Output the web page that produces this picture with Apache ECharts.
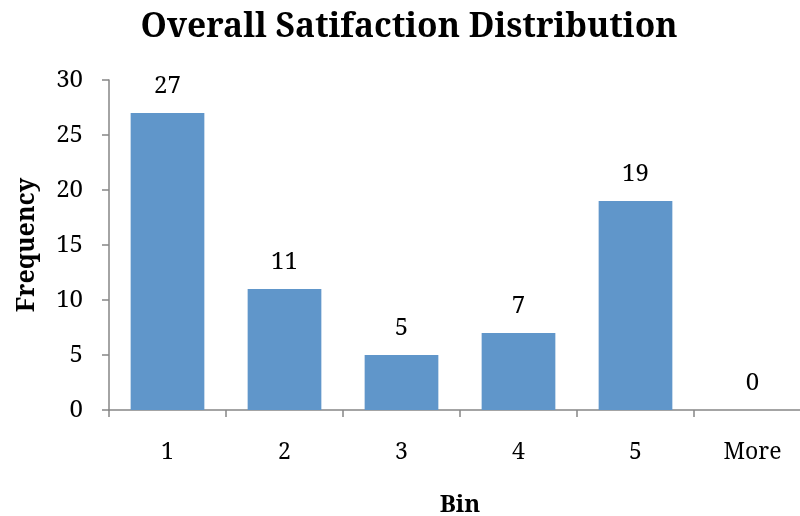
<!DOCTYPE html>
<html><head><meta charset="utf-8">
<script src="https://cdn.jsdelivr.net/npm/echarts@6/dist/echarts.min.js"></script>
<style>html,body{margin:0;padding:0;background:#fff}#c{width:800px;height:516px}</style>
</head><body><div id="c"></div>
<script>
const categories = ['1', '2', '3', '4', '5', 'More'];
const frequency = [27, 11, 5, 7, 19, 0];
const yTicks = [0, 5, 10, 15, 20, 25, 30];

const FONT = 'Noto Serif';
const chart = echarts.init(document.getElementById('c'), null, {renderer: 'canvas'});
chart.setOption({
  animation: false,
  backgroundColor: '#ffffff',
  title: {
    text: 'Overall Satifaction Distribution',
    left: 404, top: 5, textAlign: 'center',
    textStyle: {fontFamily: FONT, fontWeight: 'bold', fontSize: 33.5, color: '#000'}
  },
  grid: {left: 109, right: -11, top: 80, bottom: 106, containLabel: false, outerBoundsMode: 'none'},
  xAxis: {
    type: 'category', data: categories,
    name: 'Bin', nameLocation: 'middle', nameGap: 83,
    nameTextStyle: {fontFamily: FONT, fontWeight: 'bold', fontSize: 24, color: '#000'},
    axisLine: {lineStyle: {color: '#868686', width: 1.5}},
    axisTick: {show: true, length: 7, lineStyle: {color: '#868686', width: 1.5}},
    axisLabel: {fontFamily: FONT, fontSize: 23, color: '#000', margin: 31}
  },
  yAxis: {
    type: 'value', min: yTicks[0], max: yTicks[yTicks.length - 1], interval: 5,
    name: 'Frequency', nameLocation: 'middle', nameGap: 70, nameRotate: 90,
    nameTextStyle: {fontFamily: FONT, fontWeight: 'bold', fontSize: 25, color: '#000'},
    splitLine: {show: false},
    axisLine: {show: true, lineStyle: {color: '#868686', width: 1.5}},
    axisTick: {show: true, length: 7, lineStyle: {color: '#868686', width: 1.5}},
    axisLabel: {fontFamily: FONT, fontSize: 24, color: '#000', margin: 26}
  },
  series: [{
    type: 'bar', data: frequency, barWidth: '63%',
    itemStyle: {color: '#6096CA'},
    label: {show: true, position: 'top', distance: 15, fontFamily: FONT, fontSize: 24, color: '#000'}
  }]
});
</script></body></html>
